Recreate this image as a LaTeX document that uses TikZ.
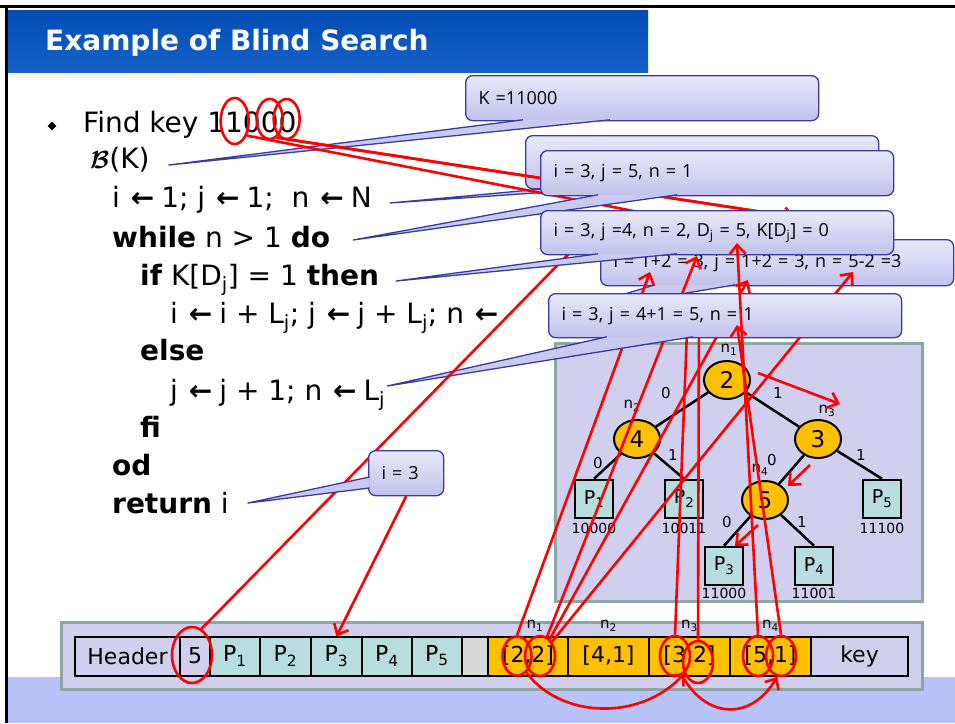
\documentclass[tikz,border=0pt]{standalone}
\usepackage{fontspec}
\setmainfont{DejaVu Sans}
\newfontfamily\callfont{Open Sans}
\usepackage{bm}
\usetikzlibrary{shapes.geometric, arrows.meta, positioning, calc}

\definecolor{titleblue}{RGB}{0, 76, 178}
\definecolor{titleblue2}{RGB}{22, 98, 202}
\definecolor{bandblue}{RGB}{184, 196, 248}
\definecolor{panelbg}{RGB}{208, 208, 238}
\definecolor{panelrim}{RGB}{143, 165, 165}
\definecolor{nodeorange}{RGB}{255, 192, 0}
\definecolor{leafteal}{RGB}{183, 221, 224}
\definecolor{cellgray}{RGB}{217, 217, 217}
\definecolor{calltop}{RGB}{232, 232, 250}
\definecolor{callbot}{RGB}{194, 194, 236}
\definecolor{callrim}{RGB}{58, 58, 160}
\definecolor{markred}{RGB}{255, 0, 0}

\tikzset{
  codeline/.style={anchor=base west, inner sep=0pt, font=\fontsize{28}{34}\selectfont},
  callbox/.style={anchor=north west, draw=callrim, line width=1.3pt, rounded corners=7pt,
    top color=calltop, bottom color=callbot, inner xsep=13pt, inner ysep=0pt, align=left,
    font=\callfont\fontsize{18}{22}\selectfont},
  wedgefill/.style={fill=callbot!80!calltop},
  wedgerim/.style={draw=callrim, line width=1.3pt, line join=round},
  treenode/.style={ellipse, draw, line width=2pt, fill=nodeorange, minimum width=46pt,
    minimum height=38pt, inner sep=0pt, font=\fontsize{23}{23}\selectfont},
  leafbox/.style={draw, line width=2.5pt, fill=leafteal, minimum size=38pt, inner sep=0pt,
    font=\fontsize{19}{19}\selectfont},
  treeedge/.style={line width=2.5pt},
  smalllab/.style={inner sep=0pt, font=\fontsize{15}{15}\selectfont},
  arrcell/.style={draw, line width=2pt, minimum height=39pt, inner sep=0pt, outer sep=0pt,
    anchor=west, font=\fontsize{22}{22}\selectfont},
  redring/.style={ellipse, draw=markred, line width=2.6pt, inner sep=0pt},
  redline/.style={draw=markred, line width=2.6pt},
  redarr/.style={redline, -{Straight Barb[length=9pt,width=16pt]}},
}

\newcommand{\larr}{\hspace{2pt}\textbf{←}\hspace{7pt}}
\newcommand{\callwedge}[3]{%
  \fill[wedgefill] (#1) -- (#2) -- (#3) -- cycle;
  \draw[wedgerim] (#1) -- (#2) -- (#3);}

\begin{document}
\begin{tikzpicture}[x=1pt, y=-1pt]
  \useasboundingbox (0,0) rectangle (955,723);
  \fill[white] (0,0) rectangle (955,723);

  % slide frame and title
  \fill[bandblue] (6,677) rectangle (955,723);
  \shade[top color=titleblue, bottom color=titleblue2] (8,10) rectangle (648,72);
  \draw[line width=3pt] (0,6) -- (955,6);
  \draw[line width=3pt] (6.5,6) -- (6.5,723);
  \node[anchor=base west, inner sep=0pt, text=white, font=\bfseries\fontsize{28}{28}\selectfont] (title) at (45,50) {Example of Blind Search};

  % tree
  \draw[draw=panelrim, fill=panelbg, line width=3pt] (555,343) rectangle (922,601);
  \node[treenode] (nd1) at (727,380) {2};
  \node[treenode] (nd2) at (637,439) {4};
  \node[treenode] (nd3) at (818,439) {3};
  \node[treenode] (nd4) at (765,500) {5};
  \node[leafbox] (lf1) at (594,499) {P\textsubscript{1}};
  \node[leafbox] (lf2) at (684,499) {P\textsubscript{2}};
  \node[leafbox] (lf5) at (882,499) {P\textsubscript{5}};
  \node[leafbox] (lf3) at (724,566) {P\textsubscript{3}};
  \node[leafbox] (lf4) at (814,566) {P\textsubscript{4}};
  \draw[treeedge] (nd1) -- (nd2);
  \draw[treeedge] (nd1) -- (nd3);
  \draw[treeedge] (nd2) -- (lf1.north);
  \draw[treeedge] (nd2) -- (lf2.north);
  \draw[treeedge] (nd3) -- (nd4);
  \draw[treeedge] (nd3) -- (lf5.north);
  \draw[treeedge] (nd4) -- (lf3.north);
  \draw[treeedge] (nd4) -- (lf4.north);

  \node[smalllab] (tn1) at (729,350) {n\textsubscript{1}};
  \node[smalllab] (tn2) at (632,406) {n\textsubscript{2}};
  \node[smalllab] (tn3) at (827,411) {n\textsubscript{3}};
  \node[smalllab] (tn4) at (760,470) {n\textsubscript{4}};
  \node[smalllab] (e12) at (666,393) {0};
  \node[smalllab] (e13) at (778,393) {1};
  \node[smalllab] (e21) at (598,463) {0};
  \node[smalllab] (e22) at (673,455) {1};
  \node[smalllab] (e34) at (772,460) {0};
  \node[smalllab] (e35) at (861,455) {1};
  \node[smalllab] (e43) at (727,522) {0};
  \node[smalllab] (e44) at (802,522) {1};
  \node[smalllab, font=\fontsize{14}{14}\selectfont] (kc1) at (594,528) {10000};
  \node[smalllab, font=\fontsize{14}{14}\selectfont] (kc2) at (684,528) {10011};
  \node[smalllab, font=\fontsize{14}{14}\selectfont] (kc5) at (882,528) {11100};
  \node[smalllab, font=\fontsize{14}{14}\selectfont] (kc3) at (724,593) {11000};
  \node[smalllab, font=\fontsize{14}{14}\selectfont] (kc4) at (814,593) {11001};

  % page layout
  \draw[draw=panelrim, fill=panelbg, line width=3pt] (61,622) rectangle (922,689);
  \node[arrcell, fill=panelbg, minimum width=105pt] (hdr) at (75,656) {Header};
  \node[arrcell, fill=panelbg, minimum width=30pt, right=0pt of hdr] (c5) {5};
  \node[arrcell, fill=leafteal, minimum width=50pt, right=0pt of c5] (p1) {P\textsubscript{1}};
  \node[arrcell, fill=leafteal, minimum width=51pt, right=0pt of p1] (p2) {P\textsubscript{2}};
  \node[arrcell, fill=leafteal, minimum width=51pt, right=0pt of p2] (p3) {P\textsubscript{3}};
  \node[arrcell, fill=leafteal, minimum width=50pt, right=0pt of p3] (p4) {P\textsubscript{4}};
  \node[arrcell, fill=leafteal, minimum width=50pt, right=0pt of p4] (p5) {P\textsubscript{5}};
  \node[arrcell, fill=cellgray, minimum width=26pt, right=0pt of p5] (gap) {};
  \node[arrcell, fill=nodeorange, minimum width=80pt, right=0pt of gap] (k1) {[2,2]};
  \node[arrcell, fill=nodeorange, minimum width=81pt, right=0pt of k1] (k2) {[4,1]};
  \node[arrcell, fill=nodeorange, minimum width=81pt, right=0pt of k2] (k3) {[3,2]};
  \node[arrcell, fill=nodeorange, minimum width=81pt, right=0pt of k3] (k4) {[5,1]};
  \node[arrcell, fill=panelbg, minimum width=97pt, right=0pt of k4] (key) {key};
  \node[smalllab] (an1) at ($(k1.north)+(7,-11)$) {n\textsubscript{1}};
  \node[smalllab] (an2) at ($(k2.north)+(0,-11)$) {n\textsubscript{2}};
  \node[smalllab] (an3) at ($(k3.north)+(0,-11)$) {n\textsubscript{3}};
  \node[smalllab] (an4) at ($(k4.north)+(0,-11)$) {n\textsubscript{4}};

  % algorithm
  \node[diamond, fill=black, inner sep=0pt, minimum size=9pt] (bul) at (52,126) {};
  \node[codeline] (lFind) at (83,132) {Find key 11000};
  \node[codeline] (lB) at (90,168) {{\boldmath$\mathcal{B}$}(K)};
  \node[codeline] (lInit) at (112,207) {i \larr 1; j \larr 1;\ \ n \larr N};
  \node[codeline] (lWhile) at (112,247) {\textbf{while} n > 1 \textbf{do}};
  \node[codeline] (lIf) at (140,285) {\textbf{if} K[D\textsubscript{j}] = 1 \textbf{then}};
  \node[codeline] (lThen) at (170,323) {i \larr i + L\textsubscript{j}; j \larr j + L\textsubscript{j}; n \larr};
  \node[codeline] (lElse) at (140,360) {\textbf{else}};
  \node[codeline] (lStep) at (170,400) {j \larr j + 1; n \larr L\textsubscript{j}};
  \node[codeline] (lFi) at (140,437) {\textbf{fi}};
  \node[codeline] (lOd) at (112,475) {\textbf{od}};
  \node[codeline] (lRet) at (112,513) {\textbf{return} i};

  \coordinate (tBK) at ($(lB.base east)+(19,-3)$);
  \coordinate (tInit) at ($(lInit.base east)+(18,-4)$);
  \coordinate (tWhile) at ($(lWhile.base east)+(23,-7)$);
  \coordinate (tIf) at ($(lIf.base east)+(17,-4)$);
  \coordinate (tStep) at ($(lStep.base east)+(2,-14)$);
  \coordinate (tRet) at ($(lRet.base east)+(19,-10)$);

  % callouts
  \node[callbox, text width=327pt, minimum height=45pt] (cK) at (465,75) {K =11000};
  \callwedge{$(cK.south west)+(58,-1.5)$}{tBK}{$(cK.south west)+(145,-1.5)$}
  \node[callbox, text width=327pt, minimum height=53pt] (cInit) at (525,135) {i};
  \callwedge{$(cInit.south west)+(30,-1.5)$}{tInit}{$(cInit.south west)+(85,-1.5)$}

  % key bits
  \node[redring, minimum width=28pt, minimum height=46pt] (rk1) at ($(lFind.base east)+(-62,-11)$) {};
  \node[redring, minimum width=26pt, minimum height=40pt] (rk2) at ($(lFind.base east)+(-27,-13)$) {};
  \node[redring, minimum width=26pt, minimum height=40pt] (rk3) at ($(lFind.base east)+(-10,-13)$) {};
  \coordinate (tKey) at (795,217);
  \coordinate (hKey) at (700,224);
  \draw[redline] (rk2.-70) -- (tKey);
  \draw[redarr] (rk3.-80) -- (tKey);
  \draw[redline] (rk1.-50) -- (hKey);

  \node[callbox, text width=327pt, minimum height=45pt] (cFinal) at (540,150) {i = 3, j = 5, n = 1};
  \callwedge{$(cFinal.south west)+(58,-1.5)$}{tWhile}{$(cFinal.south west)+(137,-1.5)$}

  \node[callbox, text width=327pt, minimum height=46pt] (cAdd) at (600,239) {i = 1+2 = 3, j = 1+2 = 3, n = 5-2 =3};
  \coordinate (tAdd) at (552,316);
  \callwedge{$(cAdd.south west)+(55,-1.5)$}{tAdd}{$(cAdd.south west)+(135,-1.5)$}

  % lookups in the page
  \node[redring, minimum width=40pt, minimum height=56pt] (r5) at ($(c5)+(-3,-1)$) {};
  \node[redring, minimum width=29pt, minimum height=39pt] (r22a) at (517,656) {};
  \node[redring, minimum width=30pt, minimum height=40pt] (r22b) at (540,656) {};
  \node[redring, minimum width=30pt, minimum height=40pt] (r32a) at (675,656) {};
  \node[redring, minimum width=30pt, minimum height=42pt] (r32b) at (698,662) {};
  \node[redring, minimum width=30pt, minimum height=40pt] (r51a) at (758,656) {};
  \node[redring, minimum width=30pt, minimum height=40pt] (r51b) at (781,656) {};

  \coordinate (tA) at (650,272);
  \coordinate (tB) at (697,256);
  \coordinate (tC) at (748,280);
  \coordinate (tD) at (853,272);
  \coordinate (hE) at (688,305);
  \coordinate (hF) at (699,305);
  \coordinate (tG) at (737,243);
  \coordinate (tH) at (737,325);
  \draw[redarr] (r22a.north) -- (tA);
  \draw[redarr] (r22b.70) -- (tB);
  \draw[redarr] (r22b.60) -- (tC);
  \draw[redarr] (r22b.50) -- (tD);
  \draw[redline] (r32a.north) -- (hE);
  \draw[redline] (r32b.north) -- (hF);

  \node[callbox, text width=327pt, minimum height=44pt] (cLast) at (548,293) {i = 3, j = 4+1 = 5, n = 1};
  \callwedge{$(cLast.south west)+(59,-1.5)$}{tStep}{$(cLast.south west)+(145,-1.5)$}

  \coordinate (h5) at (590,232);
  \draw[redline] (r5.70) -- (h5);

  \node[callbox, text width=327pt, minimum height=44pt] (cDj) at (540,210) {i = 3, j =4, n = 2, D\textsubscript{j} = 5, K[D\textsubscript{j}] = 0};
  \callwedge{$(cDj.south west)+(58,-1.5)$}{tIf}{$(cDj.south west)+(137,-1.5)$}

  \draw[redarr] (r51a.north) -- (tG);
  \draw[redarr] (r51b.north) -- (tH);

  \node[callbox, text width=49pt, minimum height=45pt] (cRet) at (368,450) {i = 3};
  \callwedge{$(cRet.north west)+(1.5,27)$}{tRet}{$(cRet.north west)+(1.5,38)$}
  \draw[redarr] (cRet.south) -- (p3.north);

  % search path in the tree
  \draw[redarr] ($(nd1)+(31,-7)$) -- ($(nd3)+(22,-35)$);
  \draw[redarr] ($(nd3)+(-8,26)$) -- ($(nd4)+(23,-14)$);
  \draw[redarr] ($(nd4)+(-7,25)$) -- ($(lf3)+(11,-20)$);

  % jumps between entries
  \draw[redarr] (r22a.-60) .. controls (560,718) and (640,722) .. (r32a.-60);
  \draw[redarr] (r32a.-70) .. controls (705,718) and (750,722) .. (r51b.-100);
\end{tikzpicture}
\end{document}
